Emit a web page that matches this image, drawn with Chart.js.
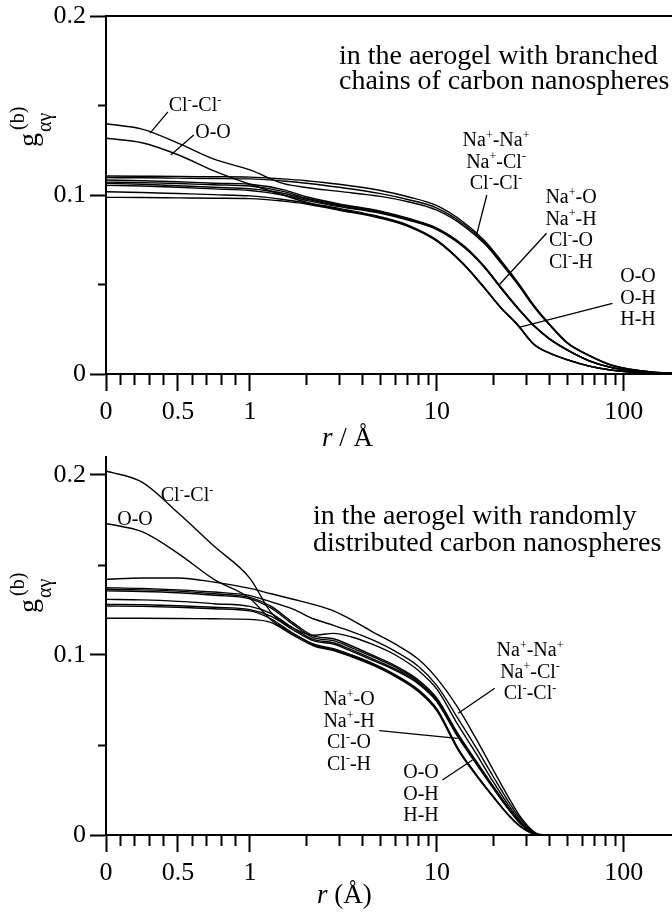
<!DOCTYPE html>
<html lang="en">
<head>
<meta charset="UTF-8">
<title>g(b) αγ in carbon aerogels</title>
<script src="https://cdn.jsdelivr.net/npm/chart.js"></script>
<style>
  body { margin: 0; background: #fff; }
  canvas { position: absolute; left: 0; }
</style>
</head>
<body>
<canvas id="topChart" width="672" height="450" style="top:0"></canvas>
<canvas id="bottomChart" width="672" height="465" style="top:450px"></canvas>
<script>
// ---- data (r in Å) ----
const rTop = [0, 0.25, 0.5, 0.75, 1, 1.5, 2, 3, 5, 7, 10, 14, 18, 22, 27, 33, 40, 50, 65, 85, 110, 140, 181];
const topNaNa = [0.1106,0.1105,0.1104,0.1102,0.1100,0.1090,0.1080,0.1060,0.1025,0.0990,0.0940,0.0845,0.0745,0.0635,0.0515,0.0385,0.0280,0.0175,0.0105,0.0052,0.0026,0.0012,0.0005];
const topNaCl = [0.1097,0.1096,0.1094,0.1092,0.1090,0.1078,0.1066,0.1043,0.1008,0.0975,0.0927,0.0835,0.0735,0.0627,0.0508,0.0380,0.0277,0.0173,0.0104,0.0051,0.0025,0.0012,0.0005];
const topClCl = [0.1398,0.1368,0.1290,0.1200,0.1140,0.1065,0.1042,0.1020,0.0992,0.0962,0.0915,0.0825,0.0727,0.0620,0.0502,0.0376,0.0274,0.0171,0.0103,0.0050,0.0025,0.0011,0.0005];
const topNaO  = [0.1084,0.1080,0.1074,0.1066,0.1060,0.1030,0.0990,0.0950,0.0910,0.0870,0.0815,0.0715,0.0600,0.0485,0.0372,0.0272,0.0198,0.0135,0.0075,0.0038,0.0018,0.0008,0.0003];
const topNaH  = [0.1072,0.1069,0.1064,0.1057,0.1050,0.1020,0.0982,0.0945,0.0906,0.0866,0.0812,0.0712,0.0598,0.0483,0.0370,0.0271,0.0197,0.0134,0.0075,0.0038,0.0018,0.0008,0.0003];
const topClO  = [0.1065,0.1060,0.1052,0.1043,0.1035,0.1010,0.0977,0.0940,0.0902,0.0863,0.0810,0.0710,0.0596,0.0481,0.0369,0.0270,0.0196,0.0133,0.0074,0.0037,0.0018,0.0008,0.0003];
const topClH  = [0.1054,0.1050,0.1043,0.1034,0.1025,0.1000,0.0970,0.0935,0.0898,0.0860,0.0807,0.0707,0.0594,0.0479,0.0367,0.0269,0.0195,0.0132,0.0074,0.0037,0.0018,0.0008,0.0003];
const topOO   = [0.1317,0.1292,0.1225,0.1135,0.1060,0.1000,0.0960,0.0925,0.0878,0.0832,0.0748,0.0612,0.0482,0.0372,0.0277,0.0168,0.0118,0.0080,0.0045,0.0022,0.0010,0.0004,0.0001];
const topOH   = [0.1018,0.1014,0.1008,0.1002,0.0995,0.0975,0.0955,0.0920,0.0874,0.0828,0.0745,0.0610,0.0480,0.0370,0.0275,0.0166,0.0117,0.0079,0.0045,0.0022,0.0010,0.0004,0.0001];
const topHH   = [0.0987,0.0986,0.0984,0.0982,0.0980,0.0966,0.0950,0.0915,0.0870,0.0825,0.0742,0.0608,0.0478,0.0368,0.0273,0.0165,0.0116,0.0078,0.0044,0.0022,0.0010,0.0004,0.0001];

const rBot = [0, 0.25, 0.5, 0.75, 1, 1.3, 1.7, 2.2, 2.8, 3.5, 4.5, 6, 8, 10, 13, 16, 20, 24, 28, 32, 35, 40, 80, 181];
const botNaNa = [0.1420,0.1428,0.1428,0.1405,0.1370,0.1340,0.1310,0.1280,0.1245,0.1195,0.1130,0.1060,0.0975,0.0870,0.0705,0.0545,0.0362,0.0215,0.0100,0.0030,0.0004,0,0,0];
const botNaCl = [0.1374,0.1370,0.1362,0.1350,0.1330,0.1295,0.1255,0.1200,0.1165,0.1130,0.1085,0.1020,0.0935,0.0830,0.0645,0.0495,0.0325,0.0190,0.0088,0.0026,0.0003,0,0,0];
const botClCl = [0.2022,0.1960,0.1790,0.1605,0.1426,0.1235,0.1150,0.1110,0.1120,0.1100,0.1060,0.1000,0.0912,0.0810,0.0610,0.0462,0.0296,0.0170,0.0076,0.0021,0.0002,0,0,0];
const botNaO  = [0.1365,0.1362,0.1355,0.1340,0.1320,0.1270,0.1180,0.1105,0.1090,0.1050,0.1000,0.0940,0.0860,0.0760,0.0560,0.0420,0.0272,0.0155,0.0068,0.0018,0.0002,0,0,0];
const botNaH  = [0.1356,0.1353,0.1346,0.1332,0.1312,0.1260,0.1170,0.1095,0.1080,0.1040,0.0992,0.0932,0.0853,0.0753,0.0554,0.0415,0.0268,0.0152,0.0066,0.0017,0.0002,0,0,0];
const botClO  = [0.1309,0.1306,0.1298,0.1285,0.1270,0.1230,0.1150,0.1085,0.1068,0.1028,0.0980,0.0922,0.0845,0.0746,0.0548,0.0410,0.0264,0.0150,0.0065,0.0017,0.0002,0,0,0];
const botClH  = [0.1281,0.1279,0.1274,0.1265,0.1252,0.1215,0.1140,0.1078,0.1060,0.1020,0.0972,0.0914,0.0838,0.0740,0.0542,0.0405,0.0260,0.0147,0.0063,0.0016,0.0002,0,0,0];
const botOO   = [0.1731,0.1685,0.1565,0.1420,0.1314,0.1195,0.1120,0.1060,0.1035,0.1000,0.0955,0.0890,0.0805,0.0700,0.0480,0.0345,0.0215,0.0115,0.0048,0.0012,0.0001,0,0,0];
const botOH   = [0.1272,0.1270,0.1265,0.1257,0.1245,0.1200,0.1120,0.1055,0.1030,0.0995,0.0950,0.0885,0.0800,0.0695,0.0476,0.0342,0.0213,0.0114,0.0047,0.0012,0.0001,0,0,0];
const botHH   = [0.1204,0.1204,0.1203,0.1201,0.1198,0.1180,0.1110,0.1050,0.1025,0.0990,0.0945,0.0880,0.0795,0.0690,0.0472,0.0339,0.0211,0.0112,0.0046,0.0011,0.0001,0,0,0];

// axis ticks
const xTickR = [0, 0.5, 1, 10, 100];
const xTickText = ['0', '0.5', '1', '10', '100'];
const xMinorR = [0.1, 0.2, 0.3, 0.4, 0.6, 0.7, 0.8, 0.9, 2, 3, 4, 5, 6, 7, 8, 9, 20, 30, 40, 50, 60, 70, 80, 90];
const yTickV = [0, 0.1, 0.2];
const yTickText = ['0', '0.1', '0.2'];
const yMinorV = [0.05, 0.15];
const R_MAX = 181;

// x axis: linear from 0 to 1, logarithmic above 1 (one decade = 187/144 of the 0..1 span)
const K = 187 / 144;
function toAxis(r) { return r <= 1 ? r : 1 + Math.log10(r) * K; }

const SERIF = '"Liberation Serif", "Times New Roman", serif';
const LABEL_SIZE = 20;
const LABEL_STEP = 21.5;

Chart.defaults.color = '#000';
Chart.defaults.font.family = SERIF;

// text with ^x superscripts (Na^+ -> Na⁺)
function drawRich(ctx, str, x, y, size, align) {
  const parts = [];
  for (let i = 0; i < str.length; i++) {
    if (str[i] === '^') { parts.push({ t: str[i + 1], sup: true }); i++; }
    else if (parts.length && !parts[parts.length - 1].sup) parts[parts.length - 1].t += str[i];
    else parts.push({ t: str[i], sup: false });
  }
  const supSize = Math.round(size * 0.62);
  let w = 0;
  parts.forEach(p => {
    ctx.font = (p.sup ? supSize : size) + 'px ' + SERIF;
    p.w = ctx.measureText(p.t).width;
    w += p.w;
  });
  let cx = align === 'center' ? x - w / 2 : x;
  ctx.textAlign = 'left';
  ctx.textBaseline = 'alphabetic';
  parts.forEach(p => {
    ctx.font = (p.sup ? supSize : size) + 'px ' + SERIF;
    ctx.fillText(p.t, cx, p.sup ? y - size * 0.36 : y);
    cx += p.w;
  });
}

function notesPlugin(spec) {
  return {
    id: 'notes',
    afterDraw(chart) {
      const ctx = chart.ctx;
      const xs = chart.scales.x, ys = chart.scales.y;
      ctx.save();
      ctx.fillStyle = '#000';
      ctx.strokeStyle = '#000';
      ctx.lineWidth = 1.3;
      spec.leaders.forEach(([r1, v1, r2, v2]) => {
        ctx.beginPath();
        ctx.moveTo(xs.getPixelForValue(toAxis(r1)), ys.getPixelForValue(v1));
        ctx.lineTo(xs.getPixelForValue(toAxis(r2)), ys.getPixelForValue(v2));
        ctx.stroke();
      });
      spec.labels.forEach(l => l.lines.forEach((s, k) =>
        drawRich(ctx, s, l.x, l.y + k * LABEL_STEP, LABEL_SIZE, 'center')));
      spec.caption.lines.forEach((s, k) =>
        drawRich(ctx, s, spec.caption.x, spec.caption.y + k * spec.caption.dy, 28, 'left'));

      // x axis title
      const xt = spec.xTitle;
      ctx.textAlign = 'left';
      ctx.textBaseline = 'alphabetic';
      ctx.font = 'italic 27px ' + SERIF;
      ctx.fillText('r', xt.x, xt.y);
      const rw = ctx.measureText('r').width;
      ctx.font = '27px ' + SERIF;
      ctx.fillText(xt.rest, xt.x + rw, xt.y);

      // y axis title g_{αγ}^{(b)}, rotated
      ctx.translate(spec.yTitle.x, spec.yTitle.y);
      ctx.rotate(-Math.PI / 2);
      ctx.font = '28px ' + SERIF;
      ctx.fillText('g', 0, 0);
      const gw = ctx.measureText('g').width;
      ctx.font = '20px ' + SERIF;
      ctx.fillText('(b)', gw + 3, -13);
      ctx.fillText('αγ', gw + 1, 14);
      ctx.restore();
    }
  };
}

function buildChart(id, rs, series, yMax, topPad, bottomH, notes, topBorder) {
  const datasets = series.map(vals => ({
    data: rs.map((r, i) => ({ x: toAxis(r), y: vals[i] })),
    borderColor: '#000',
    borderWidth: 1.4,
    pointRadius: 0,
    fill: false,
    cubicInterpolationMode: 'monotone'
  }));
  const tickFont = { family: SERIF, size: 26 };
  const xMax = toAxis(R_MAX);
  const scales = {
    x: {
      type: 'linear', min: 0, max: xMax,
      afterBuildTicks: s => { s.ticks = xTickR.map(r => ({ value: toAxis(r) })); },
      afterFit: s => { s.height = bottomH; s.paddingLeft = 0; s.paddingRight = 0; },
      ticks: { callback: (v, i) => xTickText[i], font: tickFont, color: '#000', padding: 6, maxRotation: 0, autoSkip: false },
      grid: { drawOnChartArea: false, tickLength: 17, tickWidth: 2, tickColor: '#000' },
      border: { display: true, width: 2, color: '#000' }
    },
    xm: {
      type: 'linear', axis: 'x', position: { y: 0 }, min: 0, max: xMax,
      afterBuildTicks: s => { s.ticks = xMinorR.map(r => ({ value: toAxis(r) })); },
      ticks: { display: false },
      grid: { drawOnChartArea: false, tickLength: 11, tickWidth: 2, tickColor: '#000' },
      border: { display: false }
    },
    y: {
      type: 'linear', min: 0, max: yMax,
      afterBuildTicks: s => { s.ticks = yTickV.map(v => ({ value: v })); },
      afterFit: s => { s.width = 106; s.paddingTop = 0; s.paddingBottom = 0; },
      ticks: { callback: (v, i) => yTickText[i], font: tickFont, color: '#000', padding: 4 },
      grid: { drawOnChartArea: false, tickLength: 16, tickWidth: 2, tickColor: '#000' },
      border: { display: true, width: 2, color: '#000' }
    },
    ym: {
      type: 'linear', axis: 'y', position: { x: 0 }, min: 0, max: yMax,
      afterBuildTicks: s => { s.ticks = yMinorV.map(v => ({ value: v })); },
      ticks: { display: false },
      grid: { drawOnChartArea: false, tickLength: 8, tickWidth: 2, tickColor: '#000' },
      border: { display: false }
    }
  };
  if (topBorder) {
    scales.xt = {
      type: 'linear', axis: 'x', position: { y: yMax }, min: 0, max: xMax,
      ticks: { display: false },
      grid: { display: false },
      border: { display: true, width: 2, color: '#000' }
    };
  }
  return new Chart(document.getElementById(id), {
    type: 'line',
    data: { datasets },
    options: {
      responsive: false,
      animation: false,
      devicePixelRatio: 1,
      layout: { padding: { top: topPad, left: 0, right: 0, bottom: 0 } },
      plugins: { legend: { display: false }, tooltip: { enabled: false } },
      scales
    },
    plugins: [notesPlugin(notes)]
  });
}

buildChart('topChart', rTop,
  [topNaNa, topNaCl, topClCl, topNaO, topNaH, topClO, topClH, topOO, topOH, topHH],
  0.2, 16, 76, {
    caption: { lines: ['in the aerogel with branched', 'chains of carbon nanospheres'], x: 339, y: 64, dy: 25 },
    labels: [
      { lines: ['Cl^--Cl^-'], x: 195, y: 111 },
      { lines: ['O-O'], x: 213, y: 138 },
      { lines: ['Na^+-Na^+', 'Na^+-Cl^-', 'Cl^--Cl^-'], x: 496, y: 146 },
      { lines: ['Na^+-O', 'Na^+-H', 'Cl^--O', 'Cl^--H'], x: 571, y: 203 },
      { lines: ['O-O', 'O-H', 'H-H'], x: 638, y: 282 }
    ],
    leaders: [
      [0.43, 0.1464, 0.306, 0.1346],
      [0.61, 0.1335, 0.45, 0.1223],
      [18.5, 0.100, 16.3, 0.0777],
      [38.6, 0.0786, 21.5, 0.0497],
      [86.9, 0.0395, 27.5, 0.0261]
    ],
    xTitle: { x: 322, y: 446, rest: ' / Å' },
    yTitle: { x: 37, y: 147 }
  }, true);

buildChart('bottomChart', rBot,
  [botNaNa, botNaCl, botClCl, botNaO, botNaH, botClO, botClH, botOO, botOH, botHH],
  0.21, 7, 80, {
    caption: { lines: ['in the aerogel with randomly', 'distributed carbon nanospheres'], x: 313, y: 74, dy: 27 },
    labels: [
      { lines: ['Cl^--Cl^-'], x: 187, y: 51 },
      { lines: ['O-O'], x: 135, y: 75 },
      { lines: ['Na^+-Na^+', 'Na^+-Cl^-', 'Cl^--Cl^-'], x: 530, y: 206 },
      { lines: ['Na^+-O', 'Na^+-H', 'Cl^--O', 'Cl^--H'], x: 349, y: 255 },
      { lines: ['O-O', 'O-H', 'H-H'], x: 421, y: 328 }
    ],
    leaders: [
      [20.4, 0.0815, 13.0, 0.0676],
      [4.92, 0.058, 12.9, 0.0537],
      [10.7, 0.0306, 15.5, 0.0417]
    ],
    xTitle: { x: 317, y: 453, rest: ' (Å)' },
    yTitle: { x: 37, y: 163 }
  }, false);
</script>
</body>
</html>
